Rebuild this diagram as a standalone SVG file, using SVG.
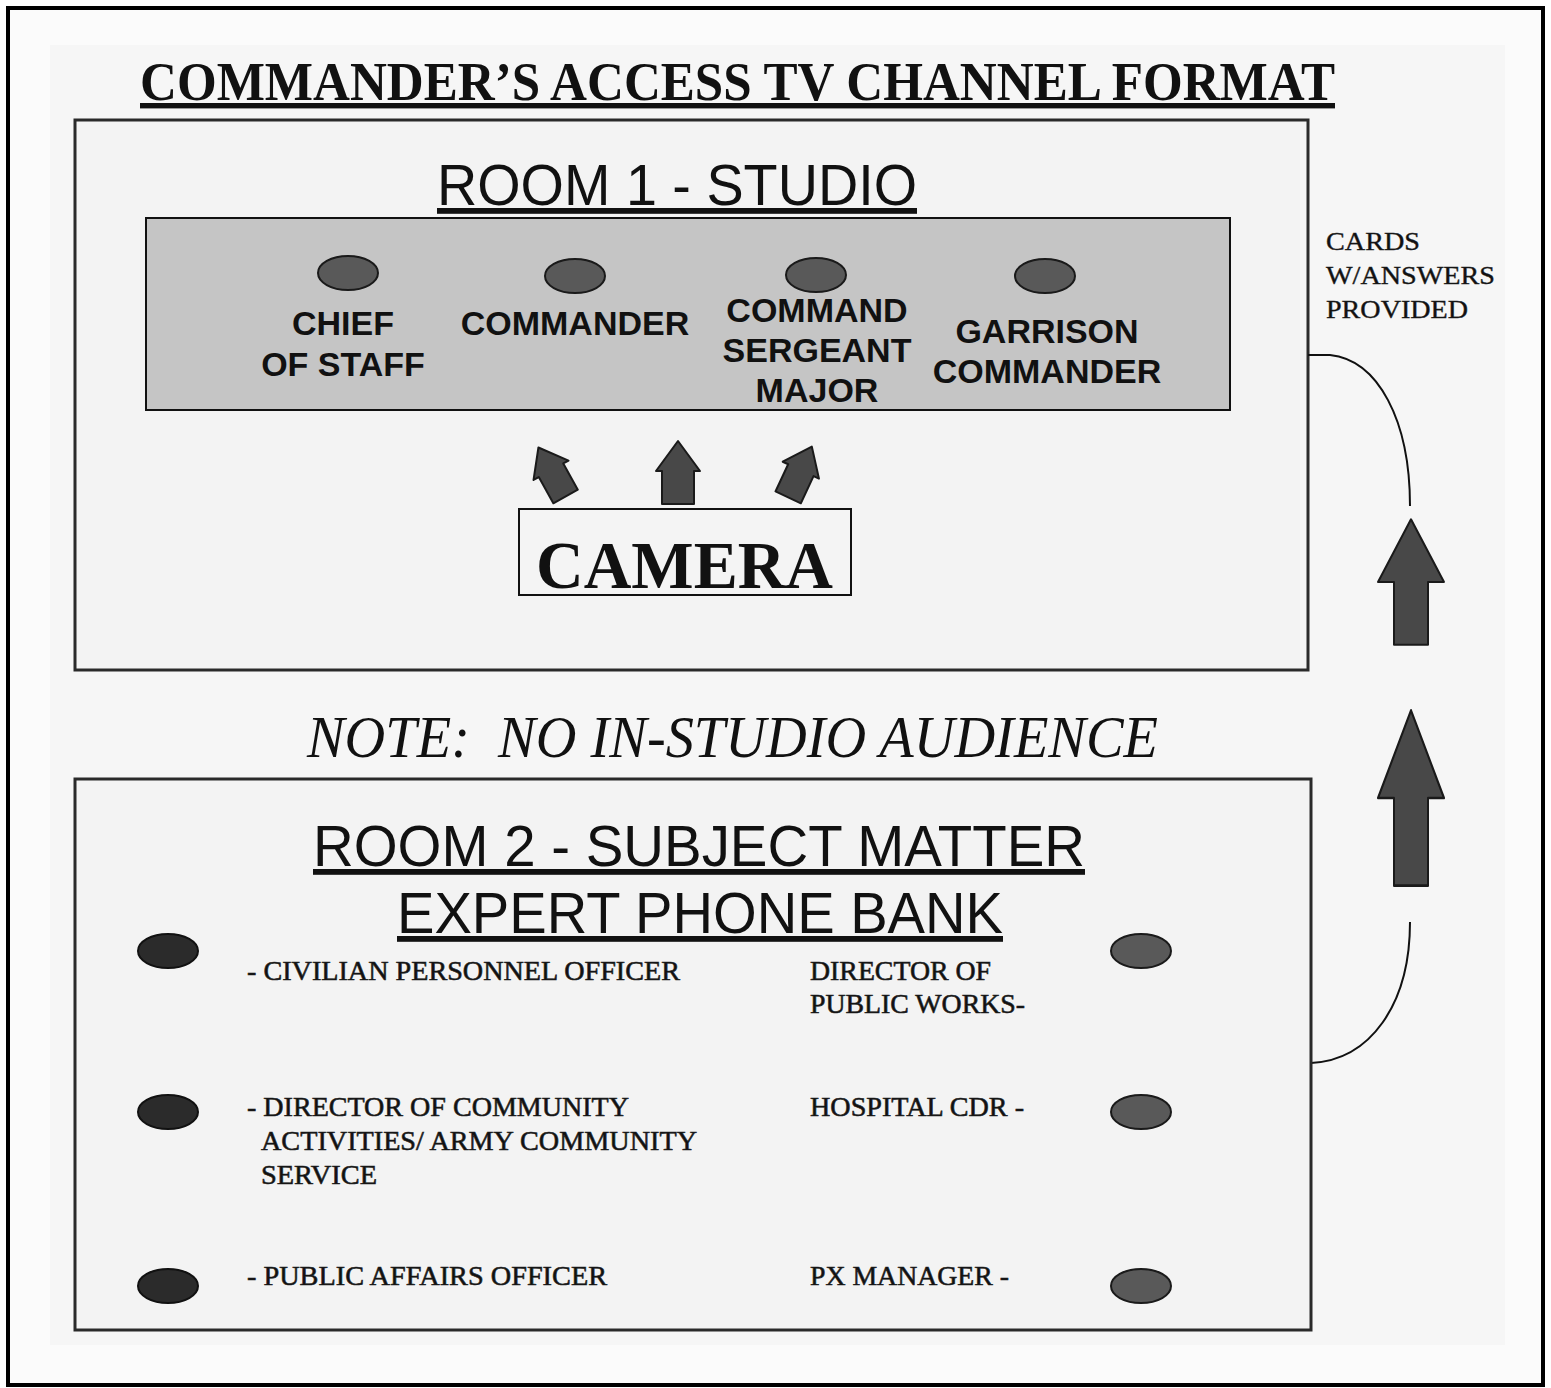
<svg xmlns="http://www.w3.org/2000/svg" width="1551" height="1388" viewBox="0 0 1551 1388">
<style>
.serif{font-family:"Liberation Serif","Times New Roman",serif;fill:#111}
.sans{font-family:"Liberation Sans",Arial,sans-serif;fill:#111}
.room{fill:#f3f3f3;stroke:#2a2a2a;stroke-width:3}
.seat{fill:#595959;stroke:#1a1a1a;stroke-width:2}
.seatdark{fill:#2b2b2b;stroke:#111;stroke-width:2}
.arrow{fill:#484848;stroke:#1a1a1a;stroke-width:2;stroke-linejoin:round}
.lbl{font-size:34px;font-weight:bold;text-anchor:middle}
.item{font-size:28px;stroke:#222;stroke-width:0.6}
.conn{fill:none;stroke:#111;stroke-width:2}
</style>
<defs>
<path id="arr" d="M0,-31 L22,-1 L16,-1 L16,32 L-16,32 L-16,-1 L-22,-1 Z"/>
<path id="arrs" d="M0,-28 L20,-2 L14,-2 L14,28 L-14,28 L-14,-2 L-20,-2 Z"/>
<path id="bigarr" d="M0,-64 L33,0 L17,0 L17,64 L-17,64 L-17,0 L-33,0 Z"/>
</defs>
<rect x="0" y="0" width="1551" height="1388" fill="#ffffff"/>
<rect x="8" y="8" width="1535" height="1377" fill="#fbfbfb" stroke="#000" stroke-width="4"/>
<rect x="50" y="45" width="1455" height="1300" fill="#f6f6f6"/>

<g id="title">
<text class="serif" x="140" y="100" font-size="54" font-weight="bold" textLength="1195" lengthAdjust="spacingAndGlyphs" text-decoration="underline">COMMANDER’S ACCESS TV CHANNEL FORMAT</text>
</g>

<g id="room1">
<rect class="room" x="75" y="120" width="1233" height="550"/>
<text class="sans" x="437" y="205" font-size="58" textLength="480" lengthAdjust="spacingAndGlyphs" text-decoration="underline">ROOM 1 - STUDIO</text>
<rect x="146" y="218" width="1084" height="192" fill="#c5c5c5" stroke="#111" stroke-width="2"/>
</g>

<g id="chief-of-staff">
<ellipse class="seat" cx="348" cy="273" rx="30" ry="17"/>
<text class="sans lbl" x="343" y="335">CHIEF</text>
<text class="sans lbl" x="343" y="376">OF STAFF</text>
</g>
<g id="commander">
<ellipse class="seat" cx="575" cy="276" rx="30" ry="17"/>
<text class="sans lbl" x="575" y="335">COMMANDER</text>
</g>
<g id="command-sergeant-major">
<ellipse class="seat" cx="816" cy="275" rx="30" ry="17"/>
<text class="sans lbl" x="817" y="322">COMMAND</text>
<text class="sans lbl" x="817" y="362">SERGEANT</text>
<text class="sans lbl" x="817" y="402">MAJOR</text>
</g>
<g id="garrison-commander">
<ellipse class="seat" cx="1045" cy="276" rx="30" ry="17"/>
<text class="sans lbl" x="1047" y="343">GARRISON</text>
<text class="sans lbl" x="1047" y="383">COMMANDER</text>
</g>

<g id="camera">
<rect x="519" y="509" width="332" height="86" fill="#f4f4f4" stroke="#111" stroke-width="2"/>
<text class="serif" x="536" y="588" font-size="68" font-weight="bold" textLength="297" lengthAdjust="spacingAndGlyphs">CAMERA</text>
</g>

<g id="connectors">
<use href="#arrs" class="arrow" transform="translate(552,472) rotate(-29)"/>
<use href="#arr" class="arrow" transform="translate(678,472)"/>
<use href="#arrs" class="arrow" transform="translate(800,472) rotate(25)"/>
<path class="conn" d="M1308,355 L1330,355 C1378,360 1410,420 1410,506"/>
<path class="conn" d="M1410,922 C1410,1005 1370,1060 1311,1063"/>
<use href="#bigarr" class="arrow" transform="translate(1411,582) scale(1,0.98)"/>
<use href="#bigarr" class="arrow" transform="translate(1411,798) scale(1,1.37)"/>
</g>

<g id="cards-label">
<text class="serif" x="1326" y="250" font-size="26" stroke="#222" stroke-width="0.4" textLength="94" lengthAdjust="spacingAndGlyphs">CARDS</text>
<text class="serif" x="1326" y="284" font-size="26" stroke="#222" stroke-width="0.4" textLength="169" lengthAdjust="spacingAndGlyphs">W/ANSWERS</text>
<text class="serif" x="1326" y="318" font-size="26" stroke="#222" stroke-width="0.4" textLength="142" lengthAdjust="spacingAndGlyphs">PROVIDED</text>
</g>

<g id="note">
<text class="serif" x="307" y="757" font-size="60" font-style="italic" textLength="851" lengthAdjust="spacingAndGlyphs" xml:space="preserve">NOTE:  NO IN-STUDIO AUDIENCE</text>
</g>

<g id="room2">
<rect class="room" x="75" y="779" width="1236" height="551"/>
<text class="sans" x="313" y="866" font-size="58" textLength="772" lengthAdjust="spacingAndGlyphs" text-decoration="underline">ROOM 2 - SUBJECT MATTER</text>
<text class="sans" x="397" y="933" font-size="58" textLength="606" lengthAdjust="spacingAndGlyphs" text-decoration="underline">EXPERT PHONE BANK</text>
</g>

<g id="civilian-personnel-officer">
<ellipse class="seatdark" cx="168" cy="951" rx="30" ry="17"/>
<text class="serif item" x="247" y="980" textLength="433" lengthAdjust="spacingAndGlyphs">- CIVILIAN PERSONNEL OFFICER</text>
</g>
<g id="director-community-activities">
<ellipse class="seatdark" cx="168" cy="1112" rx="30" ry="17"/>
<text class="serif item" x="247" y="1116" textLength="382" lengthAdjust="spacingAndGlyphs">- DIRECTOR OF COMMUNITY</text>
<text class="serif item" x="261" y="1150" textLength="436" lengthAdjust="spacingAndGlyphs">ACTIVITIES/ ARMY COMMUNITY</text>
<text class="serif item" x="261" y="1184" textLength="116" lengthAdjust="spacingAndGlyphs">SERVICE</text>
</g>
<g id="public-affairs-officer">
<ellipse class="seatdark" cx="168" cy="1286" rx="30" ry="17"/>
<text class="serif item" x="247" y="1285" textLength="360" lengthAdjust="spacingAndGlyphs">- PUBLIC AFFAIRS OFFICER</text>
</g>
<g id="director-public-works">
<ellipse class="seat" cx="1141" cy="951" rx="30" ry="17"/>
<text class="serif item" x="810" y="980" textLength="181" lengthAdjust="spacingAndGlyphs">DIRECTOR OF</text>
<text class="serif item" x="810" y="1013" textLength="215" lengthAdjust="spacingAndGlyphs">PUBLIC WORKS-</text>
</g>
<g id="hospital-cdr">
<ellipse class="seat" cx="1141" cy="1112" rx="30" ry="17"/>
<text class="serif item" x="810" y="1116" textLength="214" lengthAdjust="spacingAndGlyphs">HOSPITAL CDR -</text>
</g>
<g id="px-manager">
<ellipse class="seat" cx="1141" cy="1286" rx="30" ry="17"/>
<text class="serif item" x="810" y="1285" textLength="199" lengthAdjust="spacingAndGlyphs">PX MANAGER -</text>
</g>
</svg>
